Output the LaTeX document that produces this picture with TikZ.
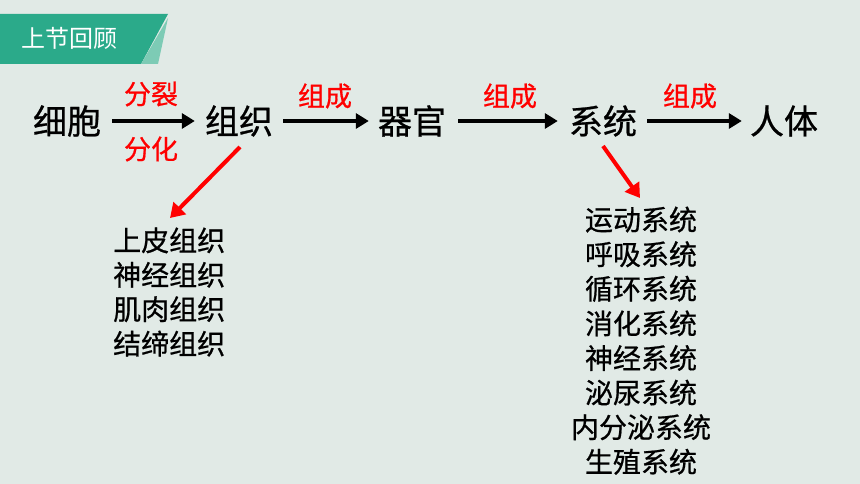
\documentclass[tikz,border=0pt]{standalone}
\usepackage{fontspec}
\setmainfont{Noto Sans CJK SC}
\newfontfamily\hv{Noto Sans CJK SC}[FakeBold=0.7]
\usetikzlibrary{arrows.meta,calc}
\definecolor{bgc}{HTML}{E1EAE6}
\definecolor{tabc}{HTML}{2BAA8A}
\definecolor{tablt}{HTML}{7DCBB5}

\begin{document}
\begin{tikzpicture}[x=1pt,y=-1pt]
   \tikzset{big/.style={inner sep=0pt, font=\hv\fontsize{34}{40}\selectfont},
            lab/.style={inner sep=0pt, text=red, font=\hv\fontsize{27}{32}\selectfont},
            item/.style={inner sep=0pt, font=\hv\fontsize{28}{32}\selectfont},
            blk/.style={-{Triangle[length=13pt,width=15pt]}, line width=4pt, black},
            rd/.style={-{Triangle[length=14pt,width=17pt]}, line width=4pt, red}};

\fill[bgc] (0,0) rectangle (860,484);
\useasboundingbox (0,0) rectangle (860,484);

%tab--------------------------
\fill[tabc] (0,14) -- (168,14) -- (141,64) -- (0,64) -- cycle;
\fill[tablt] (141,64) -- (158,64) -- (168,18) -- cycle;
\node[inner sep=0pt, anchor=west, text=white, font=\fontsize{24}{28}\selectfont] (tab) at (21,38) {上节回顾};

%row--------------------------
\node[big] (xb) at (67,121) {细胞};
\node[big] (zz) at (239,121) {组织};
\node[big] (qg) at (412,121) {器官};
\node[big] (xt) at (603,121) {系统};
\node[big] (rt) at (784,121) {人体};

\draw[blk] ($(xb.east)+(11,0)$) -- ($(zz.west)+(-10,0)$);
\draw[blk] ($(zz.east)+(10,0)$) -- ($(qg.west)+(-9,0)$);
\draw[blk] ($(qg.east)+(12,0)$) -- ($(xt.west)+(-11,0)$);
\draw[blk] ($(xt.east)+(10,0)$) -- ($(rt.west)+(-8,0)$);

\node[lab] (fl) at (151,94) {分裂};
\node[lab] (fh) at (151,149) {分化};
\node[lab] (zc1) at (325,96) {组成};
\node[lab] (zc2) at (510,96) {组成};
\node[lab] (zc3) at (690,96) {组成};

%lists------------------------
\foreach \t [count=\i] in {上皮组织,神经组织,肌肉组织,结缔组织}{
    \node[item, anchor=west] (l\i) at (113,206+34.4*\i) {\t};
}
\foreach \t [count=\i] in {运动系统,呼吸系统,循环系统,消化系统,神经系统,泌尿系统,内分泌系统,生殖系统}{
    \node[item] (r\i) at (641,185+34.6*\i) {\t};
}

%red arrows-------------------
\coordinate (zzs) at (240,147);
\coordinate (zze) at (170,218);
\coordinate (xts) at (603,146);
\coordinate (xte) at (640,198);
\draw[rd] (zzs) -- (zze);
\draw[rd] (xts) -- (xte);

\end{tikzpicture}
\end{document}
